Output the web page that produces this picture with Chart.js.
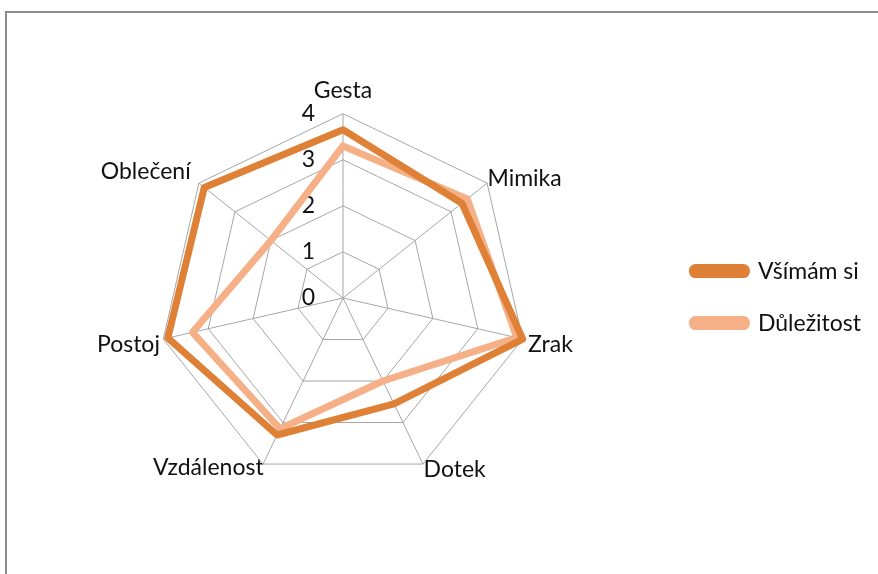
<!DOCTYPE html>
<html>
<head>
<meta charset="utf-8">
<script src="https://cdn.jsdelivr.net/npm/chart.js@4"></script>
<style>
  html, body { margin: 0; padding: 0; background: #fff; overflow: hidden; }
  #frame {
    position: absolute; left: 5px; top: 11px; width: 900px; height: 600px;
    border-left: 2px solid #8c8c8c; border-top: 2px solid #8c8c8c;
  }
  #wrap { position: absolute; left: 0; top: 0; width: 878px; height: 574px; }
</style>
</head>
<body>
<div id="frame"></div>
<div id="wrap"><canvas id="canvas"></canvas></div>
<script>
// data
const categories = ['Gesta', 'Mimika', 'Zrak', 'Dotek', 'Vzdálenost', 'Postoj', 'Oblečení'];
const vsimamSi = [3.65, 3.3, 4.0, 2.55, 3.3, 3.9, 3.85];
const dulezitost = [3.3, 3.45, 3.87, 2.0, 3.15, 3.35, 2.0];
const tickValues = [0, 1, 2, 3, 4];

const dark = 'rgb(222,128,54)';
const light = 'rgb(245,176,136)';
const fontFamily = 'Lato';
// label distance tweaks, one per category (pulls labels toward the web)
const labelPadding = [5, -13, -8, -12, -15, -10, -3];

const data = {
  labels: categories,
  datasets: [
    {
      label: 'Všímám si',
      data: vsimamSi,
      borderColor: dark,
      backgroundColor: dark,
      borderWidth: 7,
      borderJoinStyle: 'round',
      pointRadius: 0,
      fill: false,
    },
    {
      label: 'Důležitost',
      data: dulezitost,
      borderColor: light,
      backgroundColor: light,
      borderWidth: 7,
      borderJoinStyle: 'round',
      pointRadius: 0,
      fill: false,
    },
  ],
};

const config = {
  type: 'radar',
  data,
  options: {
    responsive: true,
    maintainAspectRatio: false,
    animation: false,
    layout: { padding: { top: 79, bottom: 70, left: 24, right: 7 } },
    plugins: {
      tooltip: { enabled: false },
      legend: {
        position: 'right',
        title: { display: true, text: '', font: { size: 1 }, padding: { top: 10, bottom: 0 } },
        labels: {
          font: { family: fontFamily, size: 23 },
          color: '#111',
          boxWidth: 54,
          boxHeight: 7,
          padding: 29,
          useBorderRadius: true,
          borderRadius: 3,
        },
      },
    },
    scales: {
      r: {
        min: -0.001, // so the 0 tick label gets drawn
        max: 4,
        afterBuildTicks: function (scale) {
          scale.ticks = tickValues.map(v => ({ value: v }));
        },
        grid: { color: '#a6a6a6', lineWidth: 1 },
        angleLines: { color: '#a6a6a6', lineWidth: 1 },
        pointLabels: {
          font: { family: fontFamily, size: 23, lineHeight: 0.4 },
          color: '#111',
          padding: ctx => labelPadding[ctx.index],
        },
        ticks: {
          showLabelBackdrop: false,
          color: '#111',
          font: { family: fontFamily, size: 23 },
          // push the digit left of the vertical axis
          callback: v => v + '\u2003\u2003\u2003\u2003',
        },
      },
    },
  },
};

let myChart = new Chart(document.getElementById('canvas'), config);
</script>
</body>
</html>
